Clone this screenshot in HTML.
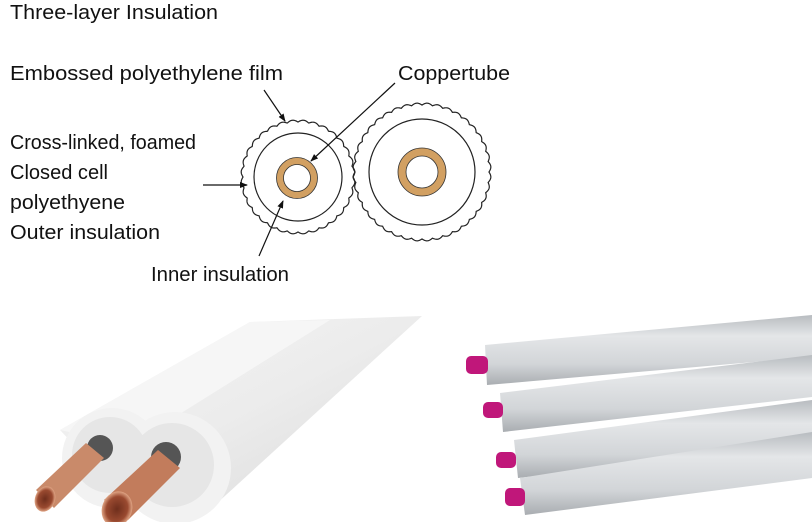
<!DOCTYPE html>
<html><head><meta charset="utf-8"><style>
html,body{margin:0;padding:0;background:#fff;}
svg{display:block}
text{font-family:"Liberation Sans",sans-serif;font-size:20px;fill:#111;}
</style></head><body>
<svg width="812" height="522" viewBox="0 0 812 522" xmlns="http://www.w3.org/2000/svg">
<defs>
<marker id="ah" markerWidth="8" markerHeight="8" refX="7" refY="4" orient="auto" markerUnits="userSpaceOnUse"><path d="M0,1 L8,4 L0,7z" fill="#111"/></marker>
<linearGradient id="wt" x1="0" y1="0" x2="1" y2="1"><stop offset="0" stop-color="#f4f4f4"/><stop offset="0.5" stop-color="#ececec"/><stop offset="1" stop-color="#d9d9d9"/></linearGradient>
<linearGradient id="rod" x1="0" y1="0" x2="0" y2="1"><stop offset="0" stop-color="#b8bcc0"/><stop offset="0.3" stop-color="#e4e6e8"/><stop offset="0.7" stop-color="#d2d5d8"/><stop offset="1" stop-color="#a9adb1"/></linearGradient>
<radialGradient id="cu"><stop offset="0" stop-color="#6e2e1c"/><stop offset="0.7" stop-color="#9a4a30"/><stop offset="1" stop-color="#e0a585"/></radialGradient>
</defs>
<text x="10" y="19" textLength="208" lengthAdjust="spacingAndGlyphs">Three-layer Insulation</text>
<text x="10" y="80" textLength="273" lengthAdjust="spacingAndGlyphs">Embossed polyethylene film</text>
<text x="398" y="80" textLength="112" lengthAdjust="spacingAndGlyphs">Coppertube</text>
<text x="10" y="149" textLength="186" lengthAdjust="spacingAndGlyphs">Cross-linked, foamed</text>
<text x="10" y="179" textLength="98" lengthAdjust="spacingAndGlyphs">Closed cell</text>
<text x="10" y="209" textLength="115" lengthAdjust="spacingAndGlyphs">polyethyene</text>
<text x="10" y="239" textLength="150" lengthAdjust="spacingAndGlyphs">Outer insulation</text>
<text x="151" y="281" textLength="138" lengthAdjust="spacingAndGlyphs">Inner insulation</text>

<g fill="none" stroke="#222" stroke-width="1.2">
<path id="w1"/><path id="w2"/>
<circle cx="298" cy="177" r="44"/>
<circle cx="422" cy="172" r="53"/>
</g>
<circle cx="297" cy="178" r="17" fill="none" stroke="#d2a062" stroke-width="7"/>
<circle cx="297" cy="178" r="20.5" fill="none" stroke="#333" stroke-width="0.8"/>
<circle cx="297" cy="178" r="13.5" fill="none" stroke="#333" stroke-width="0.8"/>
<circle cx="422" cy="172" r="20" fill="none" stroke="#d2a062" stroke-width="8"/>
<circle cx="422" cy="172" r="24" fill="none" stroke="#333" stroke-width="0.8"/>
<circle cx="422" cy="172" r="16" fill="none" stroke="#333" stroke-width="0.8"/>
<g stroke="#111" stroke-width="1.2" marker-end="url(#ah)">
<line x1="264" y1="90" x2="285" y2="121"/>
<line x1="395" y1="83" x2="311" y2="161"/>
<line x1="203" y1="185" x2="247" y2="185"/>
<line x1="259" y1="256" x2="283" y2="201"/>
</g>

<!-- left photo -->
<polygon points="60,430 250,322 422,316 215,505 130,505" fill="url(#wt)"/>
<polygon points="60,430 250,322 330,320 130,445" fill="#f6f6f6"/>
<circle cx="112" cy="458" r="50" fill="#f2f2f2"/>
<circle cx="175" cy="468" r="56" fill="#f2f2f2"/>
<circle cx="110" cy="455" r="38" fill="#e6e6e6"/>
<circle cx="172" cy="465" r="42" fill="#e6e6e6"/>
<circle cx="100" cy="448" r="13" fill="#555"/>
<circle cx="166" cy="457" r="15" fill="#555"/>
<polygon points="36,490 86,443 104,458 54,508" fill="#c98a6a"/>
<ellipse cx="45" cy="499" rx="10" ry="13" fill="url(#cu)" transform="rotate(20 45 499)"/>
<polygon points="104,500 158,450 180,468 128,520" fill="#c27c5c"/>
<ellipse cx="117" cy="509" rx="15" ry="18" fill="url(#cu)" transform="rotate(20 117 509)"/>

<!-- right photo rods -->
<polygon points="485,345 812,315 812,357 487,385" fill="url(#rod)"/>
<polygon points="500,393 812,355 812,397 503,432" fill="url(#rod)"/>
<polygon points="514,440 812,400 812,445 518,478" fill="url(#rod)"/>
<polygon points="520,478 812,432 812,478 525,515" fill="url(#rod)"/>
<g fill="#c0177a">
<rect x="466" y="356" width="22" height="18" rx="5"/>
<rect x="483" y="402" width="20" height="16" rx="5"/>
<rect x="496" y="452" width="20" height="16" rx="5"/>
<rect x="505" y="488" width="20" height="18" rx="5"/>
</g>
</svg>
<script>
function wavy(id,cx,cy,r,n,a){var d="";for(var i=0;i<=720;i++){var t=i/720*2*Math.PI;var rr=r+a*Math.abs(Math.sin(n*t/2))*1.6-a*0.8;d+=(i?"L":"M")+(cx+rr*Math.cos(t)).toFixed(2)+","+(cy+rr*Math.sin(t)).toFixed(2);}document.getElementById(id).setAttribute("d",d+"Z");}
wavy("w1",298,177,56,32,1.3);wavy("w2",422,172,68,40,1.3);
</script>
</body></html>
